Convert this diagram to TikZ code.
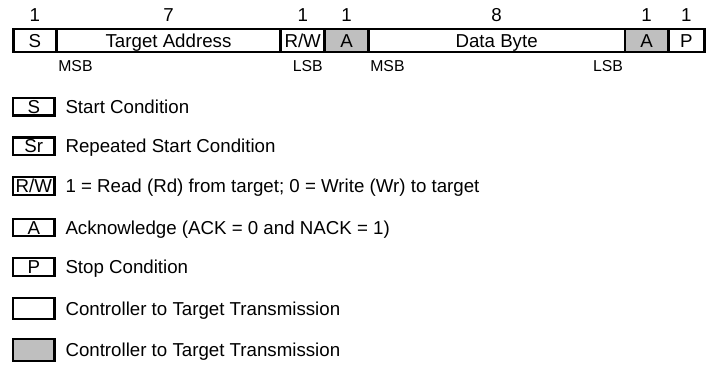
\documentclass[tikz,border=0pt]{standalone}
\usepackage{fontspec}
\setmainfont{Liberation Sans}
\usetikzlibrary{positioning}
\definecolor{ackgray}{RGB}{191,191,191}

\begin{document}
\begin{tikzpicture}
    [x=1pt,y=-1pt,%
      every node/.style={inner sep=0pt,outer sep=0pt,text height=13.3pt,text depth=0pt,%
        font=\fontsize{18.7}{20}\selectfont},%
      field/.style={draw,line width=2.6pt,minimum height=23pt},%
      ack/.style={fill=ackgray},%
      key/.style={draw,line width=2.2pt,minimum width=41.5pt,minimum height=17.5pt},%
      bit/.style={font=\fontsize{15.8}{17}\selectfont,text height=11.3pt}]
    \useasboundingbox (0,0) rectangle (706,366);
    \coordinate (count) at (0,14.7);
    \coordinate (order) at (0,66);

    \node[field,minimum width=43pt] (s) at (34.8,40.5) {S};
    \node[field,minimum width=224.4pt,right=0pt of s] (addr) {Target Address};
    \node[field,minimum width=44pt,right=0pt of addr] (rw) {R/W};
    \node[field,ack,minimum width=43.6pt,right=0pt of rw] (a1) {A};
    \node[field,minimum width=256.7pt,right=0pt of a1] (data) {Data Byte};
    \node[field,ack,minimum width=43.3pt,right=0pt of data] (a2) {A};
    \node[field,minimum width=36.2pt,right=0pt of a2] (p) {P};

    \node (ns) at (s |- count) {1};
    \node (naddr) at (addr |- count) {7};
    \node (nrw) at (rw |- count) {1};
    \node (na1) at (a1 |- count) {1};
    \node (ndata) at (data |- count) {8};
    \node (na2) at (a2 |- count) {1};
    \node (np) at (p |- count) {1};

    \node[bit,anchor=west,xshift=2pt] (amsb) at (addr.west |- order) {MSB};
    \node[bit,anchor=east,xshift=-2pt] (alsb) at (rw.east |- order) {LSB};
    \node[bit,anchor=west,xshift=2pt] (dmsb) at (data.west |- order) {MSB};
    \node[bit,anchor=east,xshift=-2pt] (dlsb) at (data.east |- order) {LSB};

    \node[key] (ks) at (33.75,106.7) {S};
    \node[key,below=22.1pt of ks] (ksr) {Sr};
    \node[key,below=22.2pt of ksr] (krw) {R/W};
    \node[key,below=24pt of krw] (ka) {A};
    \node[key,below=22pt of ka] (kp) {P};
    \node[key,minimum height=21.7pt,below=21.9pt of kp] (kctl) {};
    \node[key,ack,minimum height=21.7pt,below=19.8pt of kctl] (ktgt) {};

    \node[right=11pt of ks] (ts) {Start Condition};
    \node[right=11pt of ksr] (tsr) {Repeated Start Condition};
    \node[right=11pt of krw] (trw) {1 = Read (Rd) from target; 0 = Write (Wr) to target};
    \node[right=11pt of ka] (ta) {Acknowledge (ACK = 0 and NACK = 1)};
    \node[right=11pt of kp] (tp) {Stop Condition};
    \node[right=11pt of kctl] (tctl) {Controller to Target Transmission};
    \node[right=11pt of ktgt] (ttgt) {Controller to Target Transmission};
\end{tikzpicture}
\end{document}
